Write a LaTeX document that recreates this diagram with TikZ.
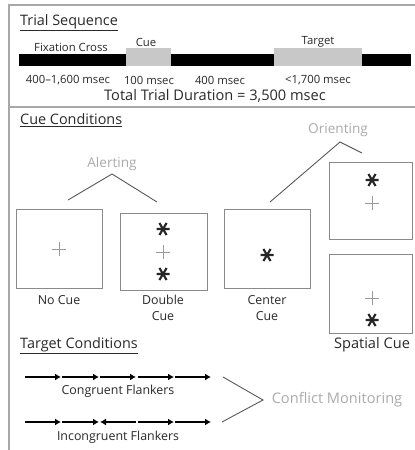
\documentclass[tikz,border=0pt]{standalone}
\usepackage{fontspec}
\setmainfont{Open Sans}
\usetikzlibrary{arrows.meta}
\definecolor{frame}{HTML}{A8A8A8}
\definecolor{barg}{HTML}{C8C8C8}
\definecolor{lbl}{HTML}{ABABAB}
\definecolor{txt}{HTML}{2A2A2A}
\definecolor{boxc}{HTML}{8A8A8A}
\newcommand{\fsz}[1]{\fontsize{#1}{#1}\selectfont}
\tikzset{
  framel/.style={draw=frame,line width=1.3pt},
  head/.style={text=txt,font=\fsz{14.4},inner sep=0pt},
  small/.style={text=txt,font=\fsz{11.3},inner sep=0pt,align=center},
  lab/.style={text=txt,font=\fontsize{12.4}{16}\selectfont,inner sep=0pt,align=center},
  mid/.style={text=txt,font=\fsz{14.6},inner sep=0pt},
  glbl/.style={text=lbl,font=\fsz{13.6},inner sep=0pt},
  bracket/.style={draw=black!65,line width=0.9pt},
  cuebox/.style={draw=boxc,line width=0.9pt,minimum width=#1,inner sep=0pt},
  flank/.style={line width=2.7pt,-{Latex[length=6pt,width=7pt]}},
  ast/.pic={\draw[line width=2.1pt,black!85] (-6.5,0)--(6.5,0) (-3.6,-6)--(3.6,6) (3.6,-6)--(-3.6,6);},
  plus/.pic={\draw[line width=0.8pt,black!40] (-7,0)--(7,0) (0,-7)--(0,7);}
}
\begin{document}
\begin{tikzpicture}[x=1pt,y=-1pt]
\useasboundingbox (0,0) rectangle (415,450);
\fill[white] (0,0) rectangle (415,450);
% frame
\coordinate (f1) at (9,450); \coordinate (f2) at (9,5); \coordinate (f3) at (415,5);
\coordinate (d1) at (9,107); \coordinate (d2) at (415,107);
\draw[framel] (f1) -- (f2) -- (f3);
\draw[framel] (d1) -- (d2);
% trial sequence
\node[head,anchor=west] (ts) at (20,23) {\underline{Trial Sequence}};
\fill[black] (19,54) rectangle (126,66);
\fill[barg] (126,48) rectangle (171,66);
\fill[black] (171,54) rectangle (274,66);
\fill[barg] (274,48) rectangle (362,66);
\fill[black] (362,54) rectangle (411,66);
\node[small] (fc) at (71,47) {Fixation Cross};
\node[small] (cue) at (146,42) {Cue};
\node[small] (tg) at (318,42) {Target};
\node[small] (t1) at (68,80) {400–1,600 msec};
\node[small] (t2) at (149,80) {100 msec};
\node[small] (t3) at (220,80) {400 msec};
\node[small] (t4) at (318,80) {<1,700 msec};
\node[mid] (tot) at (215,96) {Total Trial Duration = 3,500 msec};
% cue conditions
\node[head,anchor=west] (cc) at (20,120) {\underline{Cue Conditions}};
\node[glbl] (orient) at (338,130) {Orienting};
\node[glbl] (alert) at (112,164) {Alerting};
\coordinate (o1) at (270,202); \coordinate (o2) at (340,142); \coordinate (o3) at (362,153);
\draw[bracket] (o1) -- (o2) -- (o3);
\coordinate (a1) at (68,200); \coordinate (a2) at (112,174); \coordinate (a3) at (157,202);
\draw[bracket] (a1) -- (a2) -- (a3);
% boxes
\node[cuebox=86pt,minimum height=79pt] (nocue) at (59,248.5) {};
\node[cuebox=87pt,minimum height=77pt] (dbl) at (163.5,251.5) {};
\node[cuebox=86pt,minimum height=79pt] (ctr) at (267,248.5) {};
\node[cuebox=83pt,minimum height=77pt] (sp1) at (370.5,200.5) {};
\node[cuebox=83pt,minimum height=79pt] (sp2) at (370.5,293.5) {};
\pic at (59,249) {plus};
\pic at (163,229) {ast};
\pic at (163,252) {plus};
\pic at (163,274) {ast};
\pic at (267,255) {ast};
\pic at (372,180) {ast};
\pic at (372,203) {plus};
\pic at (372,298) {plus};
\pic at (372,320) {ast};
\node[lab] (l1) at (59,300) {No Cue};
\node[lab] (l2) at (163,308) {Double\\Cue};
\node[lab] (l3) at (267,308) {Center\\Cue};
\node[mid] (l4) at (372,345) {Spatial Cue};
% target conditions
\node[head,anchor=west] (tc) at (20,346) {\underline{Target Conditions}};
\foreach \a/\b in {25/61,62/99,100/136,138/174,175/211}{
  \draw[flank] (\a,377) -- (\b,377);}
\foreach \a/\b in {25/61,62/99,136/100,138/174,175/211}{
  \draw[flank] (\a,422) -- (\b,422);}
\node[lab] (cong) at (118,391) {Congruent Flankers};
\node[lab] (incong) at (118,437) {Incongruent Flankers};
\coordinate (c1) at (223,377); \coordinate (c2) at (263,400); \coordinate (c3) at (222,422);
\draw[bracket] (c1) -- (c2) -- (c3);
\node[glbl,font=\fsz{14.6}] (cm) at (337,400) {Conflict Monitoring};
\end{tikzpicture}
\end{document}
